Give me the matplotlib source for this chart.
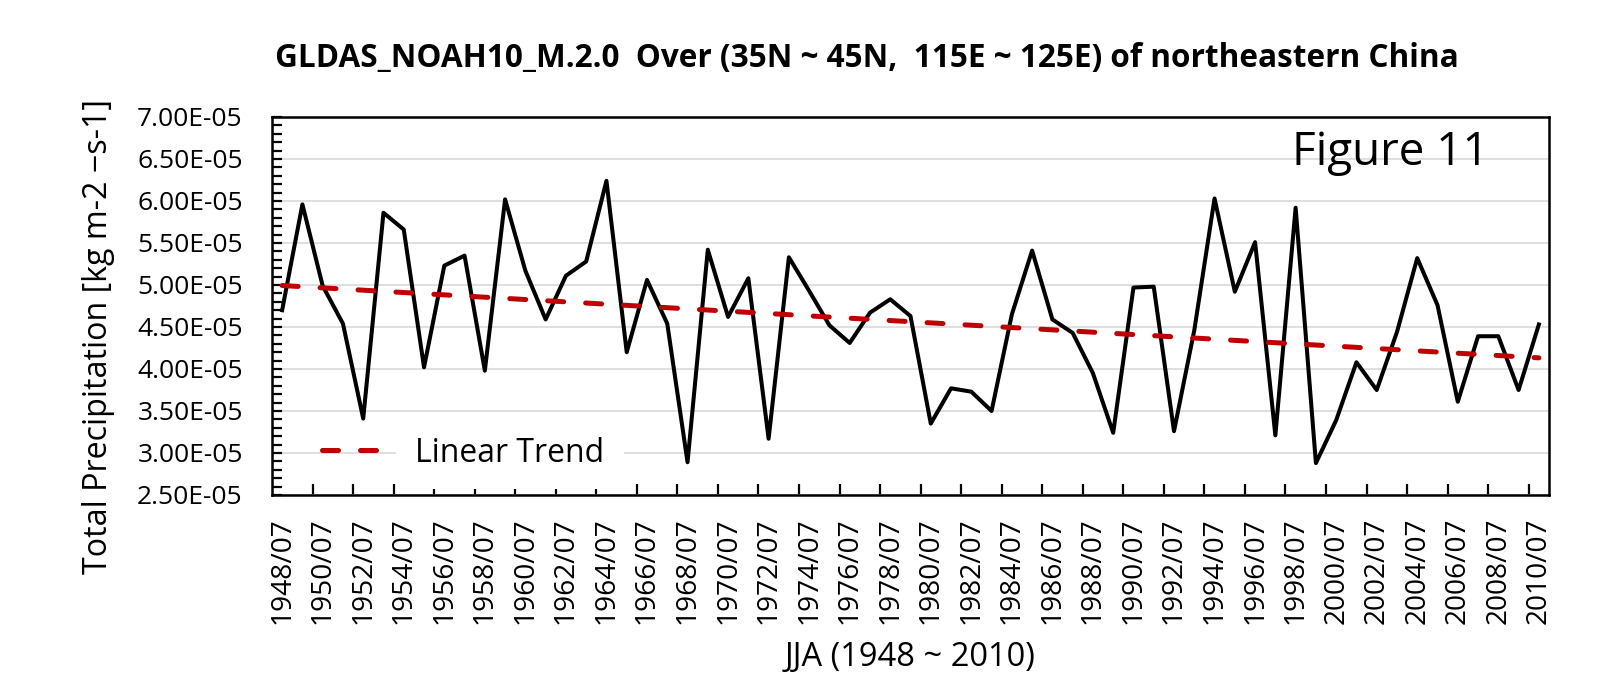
import numpy as np
import matplotlib
matplotlib.use("Agg")
import matplotlib.pyplot as plt
from matplotlib.ticker import FixedLocator, FuncFormatter, MultipleLocator
from matplotlib.textpath import TextPath
from matplotlib.font_manager import FontProperties

# ---------------- data ----------------
years = list(range(1948, 2011))
labels = [f"{y}/07" for y in years]
precip_e5 = [
    4.70, 5.96, 4.99, 4.54, 3.41, 5.86, 5.66, 4.02, 5.23, 5.35,
    3.98, 6.02, 5.17, 4.59, 5.11, 5.28, 6.24, 4.20, 5.06, 4.54,
    2.89, 5.42, 4.62, 5.08, 3.17, 5.33, 4.93, 4.52, 4.31, 4.67,
    4.83, 4.63, 3.35, 3.77, 3.73, 3.50, 4.65, 5.41, 4.59, 4.43,
    3.95, 3.24, 4.97, 4.98, 3.26, 4.46, 6.03, 4.92, 5.51, 3.21,
    5.92, 2.88, 3.39, 4.08, 3.75, 4.44, 5.32, 4.76, 3.61, 4.39,
    4.39, 3.75, 4.53,
]
precip = np.array(precip_e5) * 1e-5

title = "GLDAS_NOAH10_M.2.0  Over (35N ~ 45N,  115E ~ 125E) of northeastern China"
ylab = "Total Precipitation [kg m-2 \u2212s-1]"
xlab = "JJA (1948 ~ 2010)"
fig_tag = "Figure 11"
trend_label = "Linear Trend"

# ---------------- figure ----------------
W, H = 1605, 678
DPI = 100
FONT = ["Open Sans", "DejaVu Sans"]
plt.rcParams["font.family"] = FONT
fig = plt.figure(figsize=(W / DPI, H / DPI), dpi=DPI)
renderer = fig.canvas.get_renderer()

def px2fig(x, y):
    return x / W, 1 - y / H

def fit_size(s, target_w, target_cap, weight="normal", base=20.0, ww=0.7):
    t = fig.text(0, 0, s, fontsize=base, weight=weight)
    w = t.get_window_extent(renderer=renderer).width
    t.remove()
    size_w = base * target_w / w
    fp = FontProperties(family=FONT, weight=weight, size=base)
    cap_pts = TextPath((0, 0), "H", size=base, prop=fp).get_extents().height
    cap_px = cap_pts * DPI / 72
    size_h = base * target_cap / cap_px
    return float(size_w ** ww * size_h ** (1 - ww))

L, R, T, B = 272, 1549, 117, 495
ax = fig.add_axes([L / W, 1 - B / H, (R - L) / W, (B - T) / H])

x = np.arange(len(years))
ax.plot(x, precip, color="black", lw=2.9, zorder=3)

coef = np.polyfit(x, precip, 1)
trend = np.polyval(coef, x)
ax.plot(x, trend, color="#C00000", lw=3.6, dashes=(3.2, 4.4),
        dash_capstyle="round", label=trend_label, zorder=4)

ax.set_xlim(-0.5, len(years) - 0.5)
ax.set_ylim(2.5e-5, 7.0e-5)

# y axis
ax.yaxis.set_major_locator(MultipleLocator(0.5e-5))
ax.yaxis.set_minor_locator(MultipleLocator(0.1e-5))
ax.yaxis.set_major_formatter(FuncFormatter(lambda v, p: f"{v:.2E}"))
ytick_fs = fit_size("7.00E-05", 113, 16)
ax.tick_params(axis="y", which="both", direction="in", length=7, width=1.6,
               color="black", labelsize=ytick_fs, pad=21)
ax.grid(axis="y", which="major", color="#d9d9d9", lw=1.2, zorder=0)
ax.set_axisbelow(True)

# x axis: labels at every other category, tick marks at category boundaries
ax.xaxis.set_major_locator(FixedLocator(x[::2]))
ax.set_xticklabels(labels[::2])
ax.xaxis.set_minor_locator(FixedLocator(np.arange(1.5, len(years) - 1, 2)))
xtick_fs = fit_size("1948/07", 107, 20)
ax.tick_params(axis="x", which="major", length=0, labelsize=xtick_fs,
               labelrotation=90, pad=16)
ax.tick_params(axis="x", which="minor", direction="in", length=8, width=1.6,
               color="black")
for lab in ax.get_xticklabels():
    lab.set_va("top")

for sp in ax.spines.values():
    sp.set_linewidth(1.8)
    sp.set_color("black")

# titles and labels
tfs = fit_size(title, 1198, 22, weight="bold")
fig.text(*px2fig(275, 59), title, fontsize=tfs, weight="bold",
         ha="left", va="center")

ylfs = fit_size(ylab, 476, 23)
ax.set_ylabel(ylab, fontsize=ylfs, rotation=90, va="center", ha="center")
ax.yaxis.set_label_coords((99 - L) / (R - L), (B - 337) / (B - T))

xlfs = fit_size(xlab, 262, 21)
ax.set_xlabel(xlab, fontsize=xlfs, va="center", ha="center")
ax.xaxis.set_label_coords(0.5, (B - 658) / (B - T))

ffs = fit_size(fig_tag, 196, 33)
fig.text(*px2fig(1390, 153), fig_tag, fontsize=ffs, ha="center", va="center")

# legend
lfs = fit_size(trend_label, 187, 23)
fs_px = lfs * DPI / 72
leg = ax.legend(loc="center left",
                bbox_to_anchor=((322 - L) / (R - L), (B - 453) / (B - T)),
                frameon=False, fontsize=lfs, handlelength=60 / fs_px,
                handletextpad=33 / fs_px, borderpad=0, borderaxespad=0)
leg.get_texts()[0].set_bbox(dict(facecolor="white", edgecolor="none", pad=14))

fig.savefig("out.png", dpi=DPI)
